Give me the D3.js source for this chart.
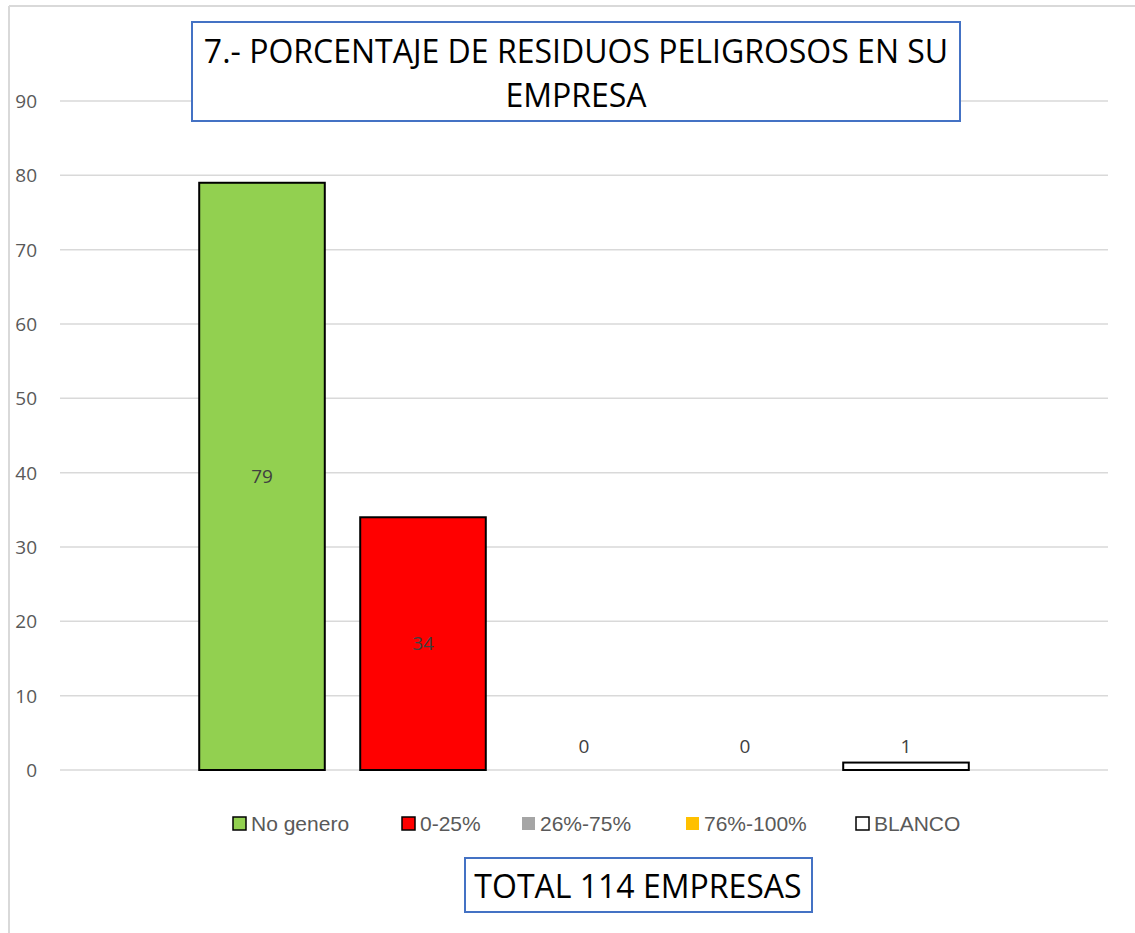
<!DOCTYPE html>
<html>
<head>
<meta charset="utf-8">
<script src="https://cdn.jsdelivr.net/npm/d3@7"></script>
<style>
  html, body { margin: 0; padding: 0; background: #fff; }
  svg { display: block; }
  text { font-family: "Liberation Sans Narrow", "Open Sans", sans-serif; }
</style>
</head>
<body>
<svg id="chart" width="1135" height="933"></svg>
<script>
const categories = ["No genero", "0-25%", "26%-75%", "76%-100%", "BLANCO"];
const values = [79, 34, 0, 0, 1];
const colors = ["#92D050", "#FF0000", "#A5A5A5", "#FFC000", "#FFFFFF"];
const yTicks = [0, 10, 20, 30, 40, 50, 60, 70, 80, 90];
const titleLines = ["7.- PORCENTAJE DE RESIDUOS PELIGROSOS EN SU", "EMPRESA"];
const totalLabel = "TOTAL 114 EMPRESAS";

const svg = d3.select("#chart");

// outer chart border (top and left visible)
svg.append("line").attr("x1", 9).attr("x2", 1135).attr("y1", 6).attr("y2", 6)
  .attr("stroke", "#d9d9d9").attr("stroke-width", 2);
svg.append("line").attr("x1", 9).attr("x2", 9).attr("y1", 6).attr("y2", 933)
  .attr("stroke", "#d9d9d9").attr("stroke-width", 2);

const y = d3.scaleLinear().domain([0, 90]).range([770, 101]);
const x = d3.scaleBand().domain(categories).range([181.5, 986.5]).paddingInner(0.22).paddingOuter(0.11);

// gridlines
svg.append("g").selectAll("line").data(yTicks).join("line")
  .attr("x1", 60).attr("x2", 1108)
  .attr("y1", d => y(d)).attr("y2", d => y(d))
  .attr("stroke", "#d9d9d9").attr("stroke-width", 1.5);

// y-axis labels
const yAxis = d3.axisLeft(y).tickValues(yTicks).tickSize(0).tickPadding(0);
const yg = svg.append("g").attr("transform", "translate(37,0)").call(yAxis);
yg.select(".domain").remove();
yg.selectAll("text").attr("fill", "#595959").style("font-size", "19px")
  .style("font-family", "'Open Sans', sans-serif").attr("dy", "0.35em");

// bars
svg.append("g").selectAll("rect").data(values).join("rect")
  .attr("x", (d, i) => x(categories[i]))
  .attr("width", x.bandwidth())
  .attr("y", d => y(d))
  .attr("height", d => y(0) - y(d))
  .attr("fill", (d, i) => colors[i])
  .attr("stroke", "#000").attr("stroke-width", d => d > 0 ? 2 : 0);

// data labels
svg.append("g").selectAll("text").data(values).join("text")
  .attr("x", (d, i) => x(categories[i]) + x.bandwidth() / 2)
  .attr("y", d => d > 5 ? (y(d) + y(0)) / 2 : Math.min(y(d), y(0) - 8) - 16)
  .attr("dy", "0.35em")
  .attr("text-anchor", "middle")
  .attr("fill", "#404040")
  .style("font-family", "'Open Sans', sans-serif")
  .style("font-size", "19px")
  .text(d => d);

// legend
const legendX = [233, 402, 522, 686, 856];
const lg = svg.append("g").selectAll("g").data(categories).join("g")
  .attr("transform", (d, i) => `translate(${legendX[i]},817)`);
lg.append("rect").attr("width", 13).attr("height", 13)
  .attr("fill", (d, i) => colors[i])
  .attr("stroke", (d, i) => i === 2 || i === 3 ? "none" : "#000")
  .attr("stroke-width", 1.5);
lg.append("text").attr("x", 18).attr("y", 7).attr("dy", "0.35em")
  .attr("fill", "#595959").style("font-size", "21px")
  .style("font-family", "'Liberation Sans Narrow', sans-serif")
  .text(d => d);

// title box
svg.append("rect").attr("x", 192).attr("y", 22).attr("width", 768).attr("height", 99)
  .attr("fill", "#fff").attr("stroke", "#4472C4").attr("stroke-width", 2);
svg.append("g").selectAll("text").data(titleLines).join("text")
  .attr("x", 576).attr("y", (d, i) => 63 + i * 44)
  .attr("text-anchor", "middle").attr("fill", "#000")
  .style("font-size", "32px")
  .text(d => d);

// total box
svg.append("rect").attr("x", 465).attr("y", 858).attr("width", 347).attr("height", 54)
  .attr("fill", "#fff").attr("stroke", "#4472C4").attr("stroke-width", 2);
svg.append("text").attr("x", 638).attr("y", 898)
  .attr("text-anchor", "middle").attr("fill", "#000")
  .style("font-size", "32px")
  .text(totalLabel);
</script>
</body>
</html>
